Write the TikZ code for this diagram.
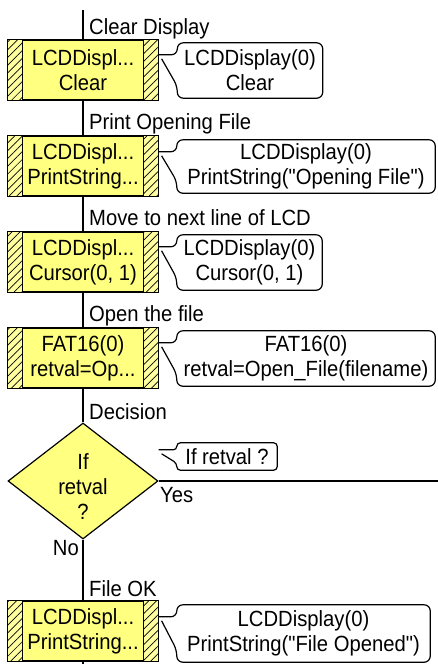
\documentclass[tikz,border=0pt]{standalone}
\usepackage{fontspec}
\setmainfont{Liberation Sans}[FakeStretch=0.92, Ligatures=TeXOff]
\usetikzlibrary{calc,shapes.geometric,patterns.meta}
\definecolor{boxyellow}{RGB}{255,255,128}
\definecolor{stripyellow}{RGB}{255,255,160}
\newcommand\callout[4]{%
  \path ($(#2.north west)+(0,-#3)$) coordinate (#2-p1)
        ($(#2.south west)+(0,#3)$) coordinate (#2-p2);
  \path ($(#1.east |- #2-p1)+(3pt,-4pt)$) coordinate (#2-p3);
  \draw[outl, rounded corners=#4] (#1.east |- #2-p1) -- (#2-p1) -- (#2.north west) -- (#2.north east)
     -- (#2.south east) -- (#2.south west) -- (#2-p2) -- (#2-p3);
}
\begin{document}
\begin{tikzpicture}[x=1pt,y=-1pt,
  every node/.style={font=\fontsize{22}{25}\selectfont, inner sep=0pt},
  flowbox/.style={draw, line width=1.2pt, fill=boxyellow, minimum width=150pt, minimum height=60pt, align=center},
  strip/.style={draw, line width=1.2pt, preaction={fill=stripyellow}, pattern={Lines[angle=45,distance=5.5pt,line width=0.7pt]}},
  cmt/.style 2 args={minimum width=#1, minimum height=#2, align=center},
  outl/.style={line width=1.2pt},
  flow/.style={line width=1.6pt},
  lbl/.style={anchor=base west}]
\useasboundingbox (0,0) rectangle (438,664);

% flow boxes
\node[flowbox] (b1) at (83,70) {LCDDispl...\\Clear};
\node[flowbox] (b2) at (83,166) {LCDDispl...\\PrintString...};
\node[flowbox] (b3) at (83,262) {LCDDispl...\\Cursor(0, 1)};
\node[flowbox] (b4) at (83,358) {FAT16(0)\\retval=Op...};
\node[draw, line width=1.2pt, fill=boxyellow, shape=diamond, minimum width=150pt, minimum height=116pt] (d) at (83,481) {};
\node[align=center] (dt) at (83,487) {If\\retval\\?};
\node[flowbox] (b5) at (83,631) {LCDDispl...\\PrintString...};

\foreach \b in {b1,b2,b3,b4,b5} {
  \draw[strip] (\b.north west) rectangle ($(\b.south west)+(15pt,0)$);
  \draw[strip] ($(\b.north east)+(-15pt,0)$) rectangle (\b.south east);
}

% comments
\node[cmt={145pt}{55pt}] (c1) at (250,70.5) {LCDDisplay(0)\\Clear};
\node[cmt={258pt}{53pt}] (c2) at (306,166.5) {LCDDisplay(0)\\PrintString("Opening File")};
\node[cmt={145pt}{55pt}] (c3) at (249.5,262.5) {LCDDisplay(0)\\Cursor(0, 1)};
\node[cmt={258pt}{55pt}] (c4) at (306,358.5) {FAT16(0)\\retval=Open\_File(filename)};
\node[cmt={100pt}{27pt}] (ci) at (227,456.5) {If retval ?};
\node[cmt={253pt}{57pt}] (c5) at (303.5,633.5) {LCDDisplay(0)\\PrintString("File Opened")};

\callout{b1}{c1}{12pt}{6pt}
\callout{b2}{c2}{12pt}{6pt}
\callout{b3}{c3}{12pt}{6pt}
\callout{b4}{c4}{12pt}{6pt}
\callout{d}{ci}{7pt}{3.5pt}
\callout{b5}{c5}{12pt}{6pt}

% labels
\node[lbl] (l1) at (89,34) {Clear Display};
\node[lbl] (l2) at (89,129) {Print Opening File};
\node[lbl] (l3) at (89,225) {Move to next line of LCD};
\node[lbl] (l4) at (89,321) {Open the file};
\node[lbl] (l5) at (89,419) {Decision};
\node[lbl] (l6) at (89,596) {File OK};
\node[anchor=base east] (lno) at (79,555) {No};
\node[lbl] (lyes) at (160,502) {Yes};

% flow lines
\coordinate (top) at (83,10);
\coordinate (bot) at (83,664);
\coordinate (yesend) at (438,481);
\draw[flow] (top) -- (b1.north);
\draw[flow] (b1.south) -- (b2.north);
\draw[flow] (b2.south) -- (b3.north);
\draw[flow] (b3.south) -- (b4.north);
\draw[flow] (b4.south) -- (d.north);
\draw[flow] (d.south) -- (b5.north);
\draw[flow] (b5.south) -- (bot);
\draw[flow] (d.east) -- (yesend);
\end{tikzpicture}
\end{document}
